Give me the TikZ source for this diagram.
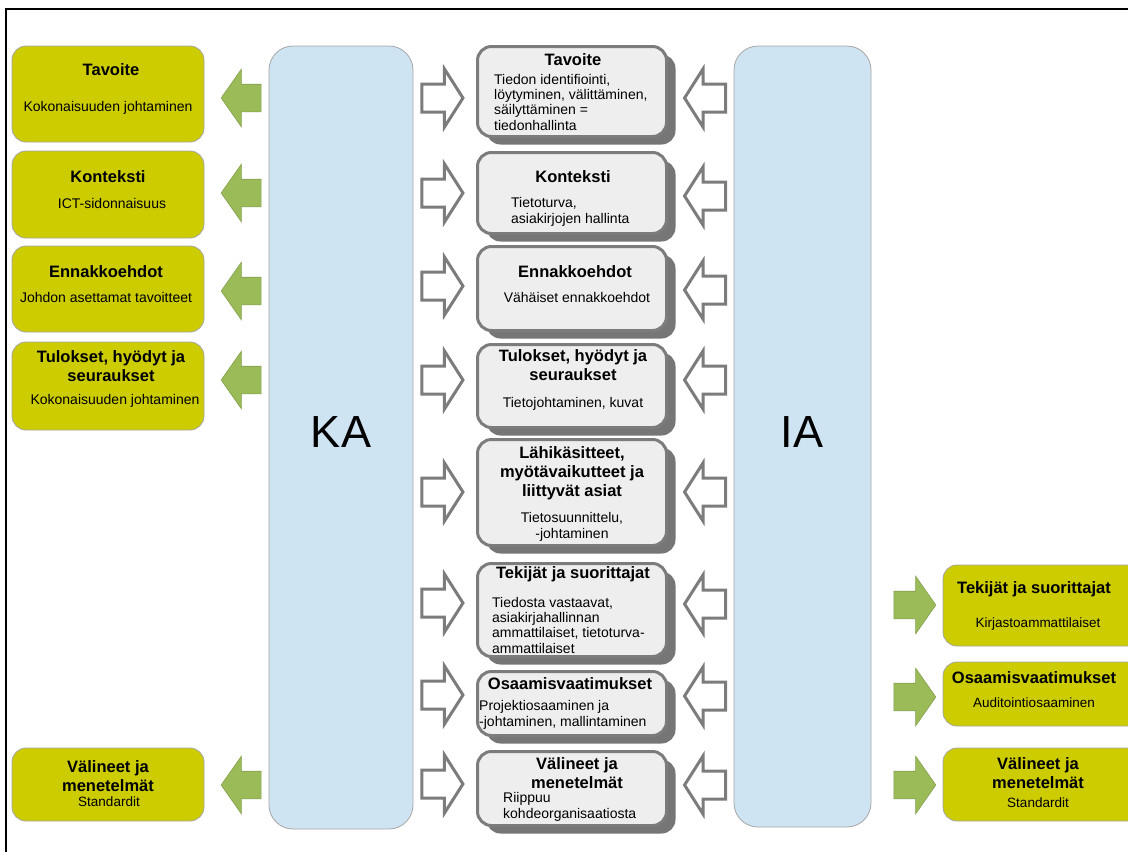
\documentclass[tikz,border=0pt]{standalone}
\usepackage{fontspec}
\setmainfont{Liberation Sans}
\usetikzlibrary{shapes.arrows,shadows}
\definecolor{boxyellow}{HTML}{CCCC00}
\definecolor{arrowgreen}{HTML}{9BBB59}
\definecolor{colblue}{HTML}{CFE4F2}
\definecolor{midfill}{HTML}{EEEEEE}
\definecolor{midline}{HTML}{7C7C7C}
\definecolor{midshadow}{HTML}{767676}
\newcommand\ttlf{\fontsize{16.5}{19}\selectfont\bfseries}
\newcommand\bodyf{\fontsize{14}{15.2}\selectfont}
\newcommand\smallf{\fontsize{13.5}{15}\selectfont}
\tikzset{
  ybox/.style={draw=gray!70, fill=boxyellow, rounded corners=14pt, line width=0.8pt, inner sep=0pt, minimum width=192pt},
  rbox/.style={ybox, minimum width=200pt},
  midbox/.style={draw=midline, fill=midfill, rounded corners=14pt, line width=3pt, inner sep=0pt, minimum width=189pt,
    drop shadow={shadow xshift=9pt, shadow yshift=-8pt, fill=midshadow, opacity=1}},
  colbox/.style={draw=gray!70, fill=colblue, rounded corners=24pt, line width=0.8pt, inner sep=0pt},
  ttl/.style={font=\ttlf, align=center, inner sep=0pt, anchor=base},
  txt/.style={font=\bodyf, align=center, inner sep=0pt, anchor=base},
  txtl/.style={font=\bodyf, align=left, inner sep=0pt, anchor=base west},
  smalltxt/.style={font=\smallf, align=center, inner sep=0pt, anchor=base},
  bigtxt/.style={font=\fontsize{45}{50}\selectfont, inner sep=0pt, anchor=base},
  garrow/.style={single arrow, fill=arrowgreen, draw=arrowgreen!85!black, line width=0.6pt, inner xsep=0pt, inner ysep=13.5pt,
    minimum height=40pt, single arrow head extend=15pt, single arrow tip angle=110},
  hollow/.style={single arrow, fill=white, draw=midline, line width=3pt, inner xsep=0pt, inner ysep=12.5pt,
    minimum height=41pt, single arrow head extend=15pt, single arrow tip angle=115},
  pointleft/.style={shape border rotate=180}
}

\begin{document}
\begin{tikzpicture}[x=1pt,y=-1pt]
  \clip (0,0) rectangle (1128,852);
  \fill[white] (0,0) rectangle (1128,852);
  \draw[line width=2pt] (6,853) |- (1130,9);

  % KA and IA columns
  \node[colbox, minimum width=144pt, minimum height=783pt] (ka) at (341,437.5) {};
  \node[bigtxt] (kaT) at (341,447) {KA};
  \node[colbox, minimum width=137pt, minimum height=781pt] (ia) at (802.5,436.5) {};
  \node[bigtxt] (iaT) at (802,447) {IA};

  % left boxes
  \node[ybox, minimum height=96pt] (lTav) at (108,94) {};
  \node[ttl] (lTavT) at (111,75) {Tavoite};
  \node[txt] (lTavB) at (108,111) {Kokonaisuuden johtaminen};
  \node[ybox, minimum height=87pt] (lKon) at (108,194.5) {};
  \node[ttl] (lKonT) at (108,182) {Konteksti};
  \node[txt] (lKonB) at (112,208) {ICT-sidonnaisuus};
  \node[ybox, minimum height=86pt] (lEnn) at (108,289) {};
  \node[ttl] (lEnnT) at (106,277) {Ennakkoehdot};
  \node[txt] (lEnnB) at (106,302) {Johdon asettamat tavoitteet};
  \node[ybox, minimum height=88pt] (lTul) at (108,386) {};
  \node[ttl] (lTulT) at (111,381) {Tulokset, hyödyt ja\\seuraukset};
  \node[txt] (lTulB) at (115,404) {Kokonaisuuden johtaminen};
  \node[ybox, minimum height=73pt] (lVal) at (108,784.5) {};
  \node[ttl] (lValT) at (108,791) {Välineet ja\\menetelmät};
  \node[smalltxt] (lValB) at (109,806) {Standardit};

  % middle boxes
  \node[midbox, minimum height=90pt] (cTav) at (572,91.5) {};
  \node[ttl] (cTavT) at (573,65) {Tavoite};
  \node[txtl] (cTavB) at (494,130) {Tiedon identifiointi,\\löytyminen, välittäminen,\\säilyttäminen =\\tiedonhallinta};
  \node[midbox, minimum height=81pt] (cKon) at (572,193) {};
  \node[ttl] (cKonT) at (573,182) {Konteksti};
  \node[txtl] (cKonB) at (511,223) {Tietoturva,\\asiakirjojen hallinta};
  \node[midbox, minimum height=84pt] (cEnn) at (572,288.5) {};
  \node[ttl] (cEnnT) at (575,277) {Ennakkoehdot};
  \node[txt] (cEnnB) at (577,302) {Vähäiset ennakkoehdot};
  \node[midbox, minimum height=83pt] (cTul) at (572,386) {};
  \node[ttl] (cTulT) at (573,380) {Tulokset, hyödyt ja\\seuraukset};
  \node[txt] (cTulB) at (573,407) {Tietojohtaminen, kuvat};
  \node[midbox, minimum height=106pt] (cLah) at (572,492.5) {};
  \node[ttl] (cLahT) at (572,496) {Lähikäsitteet,\\myötävaikutteet ja\\liittyvät asiat};
  \node[txt] (cLahB) at (572,538) {Tietosuunnittelu,\\-johtaminen};
  \node[midbox, minimum height=93pt] (cTek) at (572,610) {};
  \node[ttl] (cTekT) at (573,578) {Tekijät ja suorittajat};
  \node[txtl] (cTekB) at (492,653) {Tiedosta vastaavat,\\asiakirjahallinnan\\ammattilaiset, tietoturva-\\ammattilaiset};
  \node[midbox, minimum height=64pt] (cOsa) at (572,703.5) {};
  \node[ttl] (cOsaT) at (570,689) {Osaamisvaatimukset};
  \node[txtl] (cOsaB) at (479,726) {Projektiosaaminen ja\\-johtaminen, mallintaminen};
  \node[midbox, minimum height=74pt] (cVal) at (572,788.5) {};
  \node[ttl] (cValT) at (577,788) {Välineet ja\\menetelmät};
  \node[txtl] (cValB) at (503,818) {Riippuu\\kohdeorganisaatiosta};

  % right boxes
  \node[rbox, minimum height=81pt] (rTek) at (1043,605.5) {};
  \node[ttl] (rTekT) at (1034,593) {Tekijät ja suorittajat};
  \node[smalltxt] (rTekB) at (1038,627) {Kirjastoammattilaiset};
  \node[rbox, minimum height=64pt] (rOsa) at (1043,694) {};
  \node[ttl] (rOsaT) at (1034,683) {Osaamisvaatimukset};
  \node[smalltxt] (rOsaB) at (1034,707) {Auditointiosaaminen};
  \node[rbox, minimum height=73pt] (rVal) at (1043,784.5) {};
  \node[ttl] (rValT) at (1038,788) {Välineet ja\\menetelmät};
  \node[smalltxt] (rValB) at (1038,807) {Standardit};

  % green arrows KA -> left boxes
  \node[garrow, pointleft] (gTav) at (246,98) {};
  \node[garrow, pointleft] (gKon) at (246,193) {};
  \node[garrow, pointleft] (gEnn) at (246,291) {};
  \node[garrow, pointleft] (gTul) at (246,380) {};
  \node[garrow, pointleft] (gVal) at (246,785) {};

  % hollow arrows KA -> middle
  \node[hollow] (kTav) at (438,98) {};
  \node[hollow] (kKon) at (438,193) {};
  \node[hollow] (kEnn) at (438,286) {};
  \node[hollow] (kTul) at (438,380) {};
  \node[hollow] (kLah) at (438,492) {};
  \node[hollow] (kTek) at (438,603) {};
  \node[hollow] (kOsa) at (438,695) {};
  \node[hollow] (kVal) at (438,784) {};

  % hollow arrows IA -> middle
  \node[hollow, pointleft] (iTav) at (709.5,98) {};
  \node[hollow, pointleft] (iKon) at (709.5,196) {};
  \node[hollow, pointleft] (iEnn) at (709.5,290) {};
  \node[hollow, pointleft] (iTul) at (709.5,380) {};
  \node[hollow, pointleft] (iLah) at (709.5,492) {};
  \node[hollow, pointleft] (iTek) at (709.5,604) {};
  \node[hollow, pointleft] (iOsa) at (709.5,696) {};
  \node[hollow, pointleft] (iVal) at (709.5,785) {};

  % green arrows IA -> right boxes
  \node[garrow, minimum height=42pt] (gTek) at (910,605) {};
  \node[garrow, minimum height=42pt] (gOsa) at (910,697) {};
  \node[garrow, minimum height=42pt] (gVal2) at (910,785) {};
\end{tikzpicture}
\end{document}
